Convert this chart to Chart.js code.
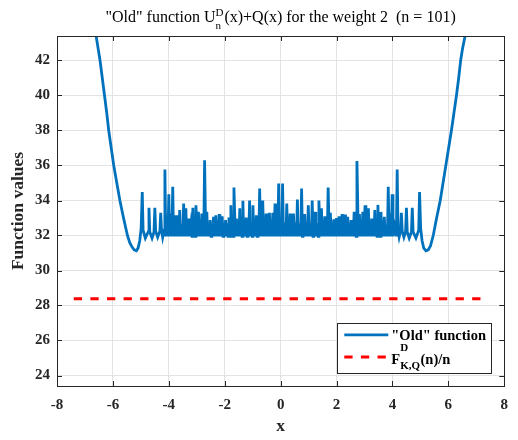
<!DOCTYPE html>
<html>
<head>
<meta charset="utf-8">
<script src="https://cdn.jsdelivr.net/npm/chart.js@4.4.1/dist/chart.umd.min.js"></script>
<style>
  body { margin: 0; background: #fff; }
  #wrap { width: 518px; height: 440px; }
</style>
</head>
<body>
<div id="wrap"><canvas id="myChart" width="518" height="440"></canvas></div>
<script>
// eksen tickleri
const xTicks = [-8, -6, -4, -2, 0, 2, 4, 6, 8];
const yTicks = [24, 26, 28, 30, 32, 34, 36, 38, 40, 42];

// "old" function, resimden okunan noktalar (tepe / cukur)
const oldX = [
  // sol kol
  -6.60, -6.53, -6.46, -6.38, -6.30, -6.22, -6.15, -6.06, -5.97, -5.86,
  -5.75, -5.62, -5.48, -5.40, -5.32, -5.24, -5.16, -5.10, -5.04, -4.99,
  // sol kenar salinimlari
  -4.95, -4.92, -4.84, -4.74, -4.71, -4.68, -4.60, -4.53, -4.50, -4.47,
  -4.40, -4.32, -4.29, -4.26, -4.22, -4.17,
  // orta bant
  -4.14, -4.11, -4.07, -4.03,
  -4.00, -3.97, -3.93, -3.89,
  -3.86, -3.83, -3.80, -3.77,
  -3.74, -3.71, -3.67, -3.64,
  -3.61, -3.58, -3.54, -3.50,
  -3.47, -3.43,
  -3.39, -3.36, -3.34, -3.32,
  -3.29, -3.26, -3.21, -3.17,
  -3.14, -3.11, -3.08, -3.06,
  -3.03, -2.98,
  -2.94, -2.91, -2.88, -2.85,
  -2.82, -2.79, -2.77, -2.75,
  -2.72, -2.68,
  -2.64, -2.61, -2.58, -2.55,
  -2.52, -2.49, -2.46, -2.43,
  -2.40, -2.36,
  -2.32, -2.29, -2.26, -2.23,
  -2.20, -2.17, -2.14, -2.12,
  -2.09, -2.06, -2.03, -2.00,
  -1.97, -1.94, -1.91, -1.88,
  -1.85, -1.81,
  -1.78, -1.75, -1.72, -1.70,
  -1.67, -1.62,
  -1.58, -1.55, -1.52, -1.49,
  -1.46, -1.43, -1.40, -1.38,
  -1.35, -1.32, -1.29, -1.26,
  -1.23, -1.20, -1.17, -1.14,
  -1.11, -1.08, -1.05, -1.02,
  -0.99, -0.96, -0.93, -0.90,
  -0.87, -0.84, -0.81, -0.78,
  -0.75, -0.72, -0.69, -0.67,
  -0.64, -0.61, -0.58, -0.55,
  -0.52, -0.49, -0.46, -0.43,
  -0.40, -0.37, -0.34, -0.31,
  -0.28, -0.24,
  -0.20, -0.17, -0.13, -0.10,
  -0.07, -0.04, 0.00, 0.04,
  0.07, 0.10, 0.14, 0.19,
  0.22, 0.25, 0.28, 0.31,
  0.34, 0.37, 0.40, 0.43,
  0.46, 0.49, 0.53, 0.57,
  0.60, 0.63, 0.67, 0.72,
  0.75, 0.78, 0.80, 0.83,
  0.86, 0.89, 0.92, 0.96,
  0.99, 1.02, 1.06, 1.10,
  1.13, 1.16, 1.18, 1.20,
  1.23, 1.26, 1.30, 1.34,
  1.37, 1.41,
  1.46, 1.49, 1.52, 1.55,
  1.58, 1.61, 1.64, 1.67,
  1.70, 1.74,
  1.78, 1.81, 1.84, 1.87,
  1.90, 1.93, 1.95, 1.97,
  2.00, 2.05,
  2.09, 2.12, 2.14, 2.17,
  2.20, 2.23, 2.26, 2.29,
  2.32, 2.36,
  2.40, 2.43, 2.46, 2.49,
  2.52, 2.55, 2.58, 2.60,
  2.63, 2.66, 2.68, 2.70,
  2.73, 2.78,
  2.82, 2.85, 2.88, 2.91,
  2.94, 2.98,
  3.02, 3.05, 3.08, 3.11,
  3.14, 3.17, 3.20, 3.23,
  3.26, 3.29, 3.32, 3.34,
  3.37, 3.40, 3.43, 3.45,
  3.48, 3.51, 3.54, 3.56,
  3.59, 3.62, 3.65, 3.68,
  3.71, 3.74, 3.78, 3.82,
  3.85, 3.88, 3.92, 3.96,
  3.99, 4.02, 4.08, 4.14,
  // sag kenar
  4.17, 4.20, 4.24, 4.29, 4.32, 4.35, 4.41, 4.47, 4.50, 4.53,
  4.60, 4.68, 4.71, 4.74, 4.84, 4.94, 4.97,
  // sag kol
  5.01, 5.06, 5.12, 5.20, 5.28, 5.36, 5.46, 5.58, 5.71,
  5.81, 5.91, 6.01, 6.11, 6.20, 6.29, 6.37, 6.44, 6.51, 6.60
];
const oldY = [
  // sol kol
  43.4, 42.7, 42.0, 41.0, 40.0, 39.0, 38.0, 37.0, 36.0, 35.0,
  34.0, 33.0, 32.0, 31.6, 31.35, 31.18, 31.13, 31.28, 31.7, 32.4,
  // sol kenar salinimlari
  34.49, 32.3, 31.85, 32.2, 33.58, 32.2, 31.85, 32.2, 33.58, 32.25,
  31.9, 32.25, 33.3, 32.3, 31.9, 32.3,
  // orta bant
  35.77, 31.95, 32.5, 31.95,
  34.36, 31.95, 32.55, 31.95,
  34.78, 31.95, 32.6, 31.95,
  33.16, 31.95, 32.55, 31.95,
  33.45, 31.95, 32.6, 31.95,
  33.83, 31.95,
  33.55, 31.95, 32.6, 31.95,
  32.97, 31.95, 32.65, 31.95,
  33.58, 31.95, 32.6, 31.95,
  33.73, 31.95,
  33.35, 31.95, 32.7, 31.95,
  33.26, 31.95, 32.65, 31.95,
  36.3, 31.95,
  33.35, 31.95, 32.7, 31.95,
  32.88, 31.95, 32.7, 31.95,
  33.07, 31.95,
  33.16, 31.95, 32.75, 31.95,
  33.22, 31.95, 32.75, 31.95,
  33.1, 31.95, 32.7, 31.95,
  32.88, 31.95, 32.7, 31.95,
  33.03, 31.95,
  33.73, 31.95, 32.7, 31.95,
  34.74, 31.95,
  32.97, 31.95, 32.75, 31.95,
  33.55, 31.95, 32.7, 31.95,
  33.98, 31.95, 32.75, 31.95,
  33.03, 31.95, 32.75, 31.95,
  34.0, 31.95, 32.7, 31.95,
  33.73, 31.95, 32.75, 31.95,
  33.16, 31.95, 32.75, 31.95,
  34.68, 31.95, 32.7, 31.95,
  34.0, 31.95, 32.75, 31.95,
  33.26, 31.95, 32.8, 31.95,
  33.3, 31.95, 32.75, 31.95,
  33.3, 31.95,
  33.83, 31.95, 32.75, 31.95,
  34.97, 31.95, 32.8, 31.95,
  34.97, 31.95, 32.75, 31.95,
  33.83, 31.95, 32.75, 31.95,
  33.26, 31.95, 32.8, 31.95,
  33.26, 31.95, 32.75, 31.95,
  34.06, 31.95, 32.7, 31.95,
  34.68, 31.95, 32.75, 31.95,
  33.22, 31.95, 32.75, 31.95,
  33.73, 31.95, 32.7, 31.95,
  34.0, 31.95, 32.75, 31.95,
  33.35, 31.95, 32.7, 31.95,
  34.0, 31.95,
  33.55, 31.95, 32.75, 31.95,
  33.1, 31.95, 32.7, 31.95,
  34.74, 31.95,
  33.3, 31.95, 32.7, 31.95,
  32.92, 31.95, 32.7, 31.95,
  33.0, 31.95,
  33.1, 31.95, 32.75, 31.95,
  33.22, 31.95, 32.75, 31.95,
  33.2, 31.95,
  33.07, 31.95, 32.7, 31.95,
  32.88, 31.95, 32.7, 31.95,
  33.35, 31.95, 32.7, 31.95,
  36.26, 31.95,
  33.22, 31.95, 32.7, 31.95,
  33.35, 31.95,
  33.73, 31.95, 32.65, 31.95,
  33.55, 31.95, 32.6, 31.95,
  32.97, 31.95, 32.65, 31.95,
  33.45, 31.95, 32.6, 31.95,
  33.75, 31.95, 32.6, 31.95,
  33.35, 31.95, 32.55, 31.95,
  33.07, 31.95, 32.6, 31.95,
  34.78, 31.95, 32.55, 31.95,
  34.36, 31.95, 32.5, 31.95,
  // sag kenar
  35.77, 32.3, 31.9, 32.25, 33.3, 32.25, 31.9, 32.2, 33.58, 32.2,
  31.85, 32.2, 33.58, 32.2, 31.85, 32.3, 34.49,
  // sag kol
  32.4, 31.7, 31.28, 31.13, 31.18, 31.4, 32.0, 33.0, 34.0,
  35.0, 36.0, 37.0, 38.0, 39.0, 40.0, 41.0, 42.0, 42.7, 43.4
];

// F^D_{K,Q}(n)/n yatay cizgi
const boundX = [-7.4, 7.4];
const boundY = [28.39, 28.39];

const blue = '#0072BD';
const red = '#FF0000';
const ink = '#262626';
const serif = '"Liberation Serif", "Times New Roman", serif';

function toPoints(xs, ys) {
  return xs.map((x, i) => ({ x: x, y: ys[i] }));
}

// kutu + iceri bakan tickler
const framePlugin = {
  id: 'frame',
  afterDatasetsDraw(chart) {
    const { ctx, chartArea: a, scales } = chart;
    const tl = 5;
    ctx.save();
    ctx.strokeStyle = ink;
    ctx.lineWidth = 1;
    ctx.beginPath();
    xTicks.forEach(v => {
      const px = Math.round(scales.x.getPixelForValue(v)) + 0.5;
      ctx.moveTo(px, a.bottom); ctx.lineTo(px, a.bottom - tl);
      ctx.moveTo(px, a.top); ctx.lineTo(px, a.top + tl);
    });
    yTicks.forEach(v => {
      const py = Math.round(scales.y.getPixelForValue(v)) + 0.5;
      ctx.moveTo(a.left, py); ctx.lineTo(a.left + tl, py);
      ctx.moveTo(a.right, py); ctx.lineTo(a.right - tl, py);
    });
    ctx.stroke();
    ctx.strokeRect(Math.round(a.left) + 0.5, Math.round(a.top) + 0.5,
      Math.round(a.right - a.left), Math.round(a.bottom - a.top));
    ctx.restore();
  },
  afterDraw(chart) {
    const { ctx, chartArea: a } = chart;
    ctx.save();
    drawTitle(ctx, a);
    drawLegend(ctx, a);
    ctx.restore();
  }
};

function drawTitle(ctx, a) {
  const big = '16px ' + serif;
  const small = '11px ' + serif;
  const t1 = '"Old" function U';
  const t2 = '(x)+Q(x) for the weight 2  (n = 101)';
  ctx.font = big;
  const w1 = ctx.measureText(t1).width;
  const w2 = ctx.measureText(t2).width;
  ctx.font = small;
  const ws = Math.max(ctx.measureText('D').width, ctx.measureText('n').width) + 1;
  let x = (a.left + a.right) / 2 - (w1 + ws + w2) / 2;
  const base = 21.5;
  ctx.fillStyle = '#000';
  ctx.textAlign = 'left';
  ctx.textBaseline = 'alphabetic';
  ctx.font = big;
  ctx.fillText(t1, x, base);
  x += w1;
  ctx.font = small;
  ctx.fillText('D', x, base - 5.7);
  ctx.fillText('n', x, base + 7.3);
  x += ws;
  ctx.font = big;
  ctx.fillText(t2, x, base);
}

function drawLegend(ctx, a) {
  const bw = 154, bh = 50;
  const bx = Math.round(a.right - 13.3 - bw);
  const by = Math.round(a.bottom - 13.3 - bh);
  ctx.fillStyle = '#fff';
  ctx.fillRect(bx, by, bw, bh);
  ctx.strokeStyle = ink;
  ctx.lineWidth = 1;
  ctx.strokeRect(bx + 0.5, by + 0.5, bw, bh);

  const lx0 = bx + 7.3, lx1 = bx + 51.3, tx = bx + 54.3;
  const bold = 'bold 14.5px ' + serif;
  const boldSmall = 'bold 11px ' + serif;

  // satir 1
  ctx.strokeStyle = blue;
  ctx.lineWidth = 2.8;
  ctx.beginPath();
  ctx.moveTo(lx0, by + 11.8); ctx.lineTo(lx1, by + 11.8);
  ctx.stroke();
  ctx.fillStyle = '#000';
  ctx.textAlign = 'left';
  ctx.textBaseline = 'alphabetic';
  ctx.font = bold;
  ctx.fillText('"Old" function', tx, by + 16.8);

  // satir 2
  ctx.strokeStyle = red;
  ctx.lineWidth = 3;
  ctx.setLineDash([8.3, 8.3]);
  ctx.beginPath();
  ctx.moveTo(lx0, by + 34); ctx.lineTo(lx1, by + 34);
  ctx.stroke();
  ctx.setLineDash([]);
  ctx.font = bold;
  ctx.fillText('F', tx, by + 40.5);
  let x = tx + ctx.measureText('F').width;
  ctx.font = boldSmall;
  ctx.fillText('D', x, by + 28.3);
  ctx.fillText('K,Q', x, by + 46);
  x += Math.max(ctx.measureText('D').width, ctx.measureText('K,Q').width) + 0.5;
  ctx.font = bold;
  ctx.fillText('(n)/n', x, by + 40.5);
}

const axisFont = { family: serif, size: 15, weight: 'bold' };
const titleFont = { family: serif, size: 17.5, weight: 'bold' };

const ctx = document.getElementById('myChart');
new Chart(ctx, {
  type: 'scatter',
  data: {
    datasets: [
      {
        label: '"Old" function',
        data: toPoints(oldX, oldY),
        showLine: true,
        borderColor: blue,
        backgroundColor: blue,
        borderWidth: 2.8,
        pointRadius: 0,
        tension: 0,
        clip: 0
      },
      {
        label: 'F^D_{K,Q}(n)/n',
        data: toPoints(boundX, boundY),
        showLine: true,
        borderColor: red,
        backgroundColor: red,
        borderWidth: 3,
        borderDash: [8.3, 8.3],
        borderCapStyle: 'butt',
        pointRadius: 0,
        clip: 0
      }
    ]
  },
  options: {
    responsive: false,
    devicePixelRatio: 1,
    animation: false,
    layout: { padding: { top: 36, right: 9, left: 0, bottom: 0 } },
    plugins: {
      legend: { display: false },
      title: { display: false },
      tooltip: { enabled: false }
    },
    scales: {
      x: {
        type: 'linear',
        min: -8,
        max: 8,
        afterBuildTicks: s => { s.ticks = xTicks.map(v => ({ value: v })); },
        afterFit: s => { s.height = 54; },
        grid: { color: '#e3e3e3', drawTicks: false },
        border: { display: false },
        ticks: { color: ink, font: axisFont, padding: 10, maxRotation: 0, callback: v => String(v) },
        title: { display: true, text: 'x', color: ink, font: titleFont, padding: { top: 0, bottom: 3 } }
      },
      y: {
        type: 'linear',
        min: 23.4,
        max: 43.4,
        afterBuildTicks: s => { s.ticks = yTicks.map(v => ({ value: v })); },
        afterFit: s => { s.width = 57; },
        grid: { color: '#e3e3e3', drawTicks: false },
        border: { display: false },
        ticks: { color: ink, font: axisFont, padding: 7, callback: v => String(v) },
        title: { display: true, text: 'Function values', color: ink, font: titleFont, padding: { top: 8, bottom: 0 } }
      }
    }
  },
  plugins: [framePlugin]
});
</script>
</body>
</html>
